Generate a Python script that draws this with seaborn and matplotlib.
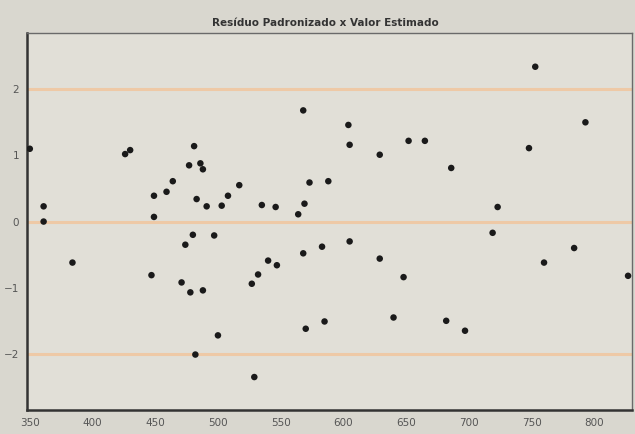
import matplotlib
matplotlib.use("Agg")
import matplotlib.pyplot as plt
import seaborn as sns
import pandas as pd

# valores estimados (eixo x) e residuos padronizados (eixo y)
valor_estimado = [350, 426, 430, 481, 477, 486, 488, 464, 459, 449,
                  449, 517, 508, 483, 491, 503, 535, 546, 573, 588,
                  569, 564, 568, 361, 361, 753, 604, 605, 629, 652,
                  665, 686, 793, 748, 723, 719, 605, 583, 568, 629,
                  648, 640, 682, 697, 570, 585, 760, 784, 827, 384,
                  447, 471, 478, 488, 474, 480, 497, 500, 482, 529,
                  527, 532, 540, 547]
residuo_padronizado = [1.10, 1.02, 1.08, 1.14, 0.85, 0.88, 0.79, 0.61, 0.45, 0.39,
                       0.07, 0.55, 0.39, 0.34, 0.23, 0.24, 0.25, 0.22, 0.59, 0.61,
                       0.27, 0.11, 1.68, 0.23, 0.00, 2.34, 1.46, 1.16, 1.01, 1.22,
                       1.22, 0.81, 1.50, 1.11, 0.22, -0.17, -0.30, -0.38, -0.48, -0.56,
                       -0.84, -1.45, -1.50, -1.65, -1.62, -1.51, -0.62, -0.40, -0.82, -0.62,
                       -0.81, -0.92, -1.07, -1.04, -0.35, -0.20, -0.21, -1.72, -2.01, -2.35,
                       -0.94, -0.80, -0.59, -0.66]

linhas_ref = [-2, 0, 2]
x_ticks = [350, 400, 450, 500, 550, 600, 650, 700, 750, 800]
y_ticks = [-2, -1, 0, 1, 2]

df = pd.DataFrame({'estimado': valor_estimado, 'residuo': residuo_padronizado})

sns.set_style('white')
plt.rcParams['font.family'] = ['DejaVu Sans']

fig = plt.figure(figsize=(6.35, 4.34), dpi=100, facecolor='#d9d7cf')
ax = fig.add_axes([0.043, 0.055, 0.952, 0.869])
ax.set_facecolor('#e1dfd7')

# linhas de referencia
for v in linhas_ref:
    ax.axhline(v, color='#eec9a6', linewidth=2.2, zorder=1)

sns.scatterplot(data=df, x='estimado', y='residuo', ax=ax, color='#1a1a1a',
                s=22, edgecolor='none', zorder=3, clip_on=True)

ax.set_xlim(348, 830)
ax.set_ylim(-2.85, 2.85)
ax.set_xticks(x_ticks)
ax.set_yticks(y_ticks)
ax.tick_params(labelsize=7.5, colors='#555555', length=2, pad=4)
ax.set_xlabel('')
ax.set_ylabel('')

for side in ['top', 'right']:
    ax.spines[side].set_color('#6a6a6a')
    ax.spines[side].set_linewidth(1.0)
for side in ['left', 'bottom']:
    ax.spines[side].set_color('#333333')
    ax.spines[side].set_linewidth(1.8)

fig.text(0.512, 0.935, 'Resíduo Padronizado x Valor Estimado', ha='center', va='bottom',
         fontsize=7.5, fontweight='bold', color='#333333')

plt.savefig('out.png', dpi=100, facecolor=fig.get_facecolor())
